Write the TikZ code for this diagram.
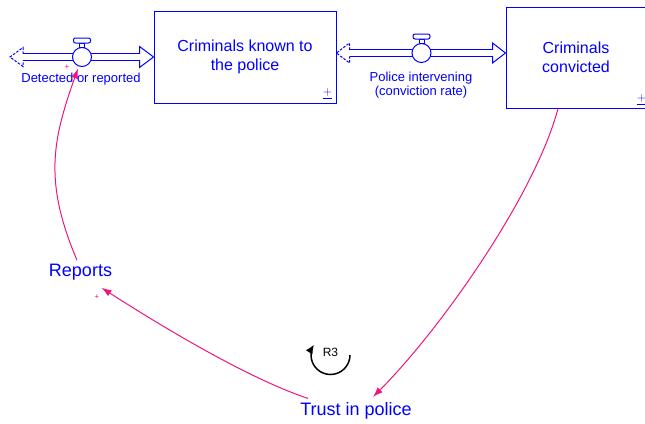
\documentclass[tikz,border=0pt]{standalone}
\usepackage{fontspec}
\setmainfont{Liberation Sans}
\usetikzlibrary{arrows.meta,calc}
\definecolor{sdblue}{RGB}{0,0,255}
\definecolor{linkpink}{RGB}{240,20,130}
\begin{document}
\begin{tikzpicture}[x=1pt,y=1pt,
  stock/.style={draw=sdblue, line width=1pt, text=sdblue, align=center,
    font=\fontsize{16}{19}\selectfont},
  valve/.style={circle, draw=sdblue, fill=white, line width=1pt,
    minimum size=19pt, inner sep=0pt},
  pipe/.style={draw=sdblue, line width=1pt, double=white, double distance=5.5pt},
  pipehead/.style={draw=sdblue, line width=1pt, line join=miter},
  cloudhead/.style={pipehead, dash pattern=on 2.5pt off 1.5pt},
  flowlabel/.style={text=sdblue, align=center, font=\fontsize{13}{14.5}\selectfont},
  varlabel/.style={text=sdblue, font=\fontsize{18}{21}\selectfont, inner sep=3pt},
  link/.style={draw=linkpink, line width=1pt, -{Latex[length=10pt,width=7pt]}},
  polarity/.style={text=linkpink, font=\fontsize{8}{8}\selectfont, inner sep=0pt},
  unitmark/.style={text=sdblue, font=\fontsize{12}{12}\selectfont, inner sep=0pt},
  handle/.style={draw=sdblue, fill=white, line width=1pt},
]
\useasboundingbox (0,0) rectangle (645,-423);

% stocks
\node[stock, minimum width=182pt, minimum height=92pt] (known) at (245,-57)
  {Criminals known to\\the police};
\node[stock, minimum width=140pt, minimum height=101pt] (convicted) at (576,-57.5)
  {Criminals\\convicted};
\node[unitmark] at ([shift={(-9,10)}]known.south east) {$\underline{+}$};
\node[unitmark] at ([shift={(-5,9)}]convicted.south east) {$\underline{+}$};

% flow 1: source -> known
\coordinate (src1) at (10,-57);
\draw[pipe] ($(src1)+(13,0)$) -- ($(known.west)+(-14,0)$);
\draw[cloudhead] ($(src1)+(13,3.25)$) -- ++(0,6.25) -- (src1)
  -- ($(src1)+(13,-9.5)$) -- ++(0,6.25);
\draw[pipehead] ($(known.west)+(-14,3.25)$) -- ++(0,7.25) -- (known.west)
  -- ($(known.west)+(-14,-10.5)$) -- ++(0,7.25);
\node[valve] (v1) at (82,-57) {};
\node[flowlabel] (l1) at (81,-79) {Detected or reported};

% flow 2: known -> convicted
\coordinate (src2) at ([yshift=4pt]known.east);
\coordinate (snk2) at ([yshift=4.5pt]convicted.west);
\draw[pipe] ($(src2)+(13,0)$) -- ($(snk2)+(-13,0)$);
\draw[cloudhead] ($(src2)+(13,3.25)$) -- ++(0,6.75) -- (src2)
  -- ($(src2)+(13,-10)$) -- ++(0,6.75);
\draw[pipehead] ($(snk2)+(-13,3.25)$) -- ++(0,6.75) -- (snk2)
  -- ($(snk2)+(-13,-10)$) -- ++(0,6.75);
\node[valve] (v2) at (421.5,-53) {};
\node[flowlabel] (l2) at (421,-85) {Police intervening\\(conviction rate)};

% valve handles
\foreach \v in {v1,v2}{
  \draw[handle] ([xshift=-2.5pt]\v.north) rectangle ([xshift=2.5pt,yshift=4pt]\v.north);
  \draw[handle, rounded corners=2pt] ([xshift=-8.5pt,yshift=4pt]\v.north)
    rectangle ([xshift=8.5pt,yshift=9pt]\v.north);
}

% auxiliary variables
\node[varlabel] (reports) at (80.5,-272) {Reports};
\node[varlabel] (trust) at (356,-411) {Trust in police};

% causal links
\draw[link] ([xshift=-18pt]convicted.south)
  .. controls +(-23,-87) and +(67,67) .. ([xshift=17pt,yshift=2.5pt]trust.north);
\draw[link] ([xshift=-48pt,yshift=1pt]trust.north)
  .. controls +(-63,21) and +(53,-34) .. ([xshift=21pt,yshift=-4.5pt]reports.south);
\draw[link] ([xshift=-3.5pt,yshift=0.5pt]reports.north)
  .. controls +(-33,78) and +(-26,-73) .. ([xshift=-4pt,yshift=-1.5pt]v1.south);
\node[polarity] at (67,-67) {+};
\node[polarity] at (97,-297) {+};

% loop marker
\coordinate (r3c) at (330.5,-355);
\draw[black, line width=1.5pt, -{Latex[length=9pt,width=8pt]}]
  ($(r3c)+(19.5,0)$) arc[start angle=0, end angle=-212, radius=19.5pt];
\node[font=\fontsize{12}{12}\selectfont] (r3) at (330.5,-352) {R3};
\end{tikzpicture}
\end{document}
